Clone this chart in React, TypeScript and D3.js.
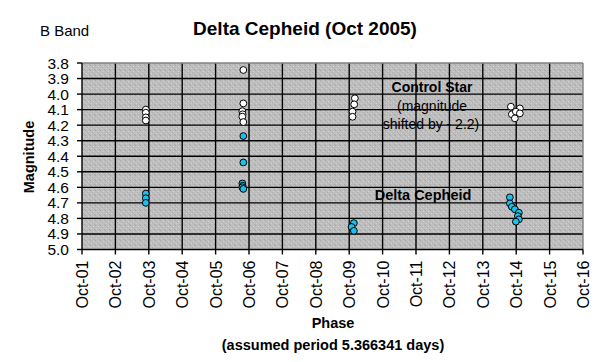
import React from "react";
import * as d3 from "d3";

// Phase expressed as day of October 2005 (fractional)
const controlDays = [2.91, 2.91, 2.91, 2.91, 5.83, 5.83, 5.80, 5.81, 5.80, 5.83, 9.17, 9.15, 9.10, 9.10, 13.84, 14.11, 13.87, 13.99, 14.11, 13.96];
const controlMags = [4.10, 4.12, 4.15, 4.17, 3.845, 4.06, 4.11, 4.13, 4.145, 4.18, 4.027, 4.066, 4.113, 4.146, 4.081, 4.092, 4.130, 4.113, 4.124, 4.156];

const deltaDays = [2.91, 2.91, 2.91, 5.83, 5.83, 5.80, 5.81, 5.80, 5.83, 9.14, 9.07, 9.14, 13.81, 13.81, 13.87, 13.96, 14.08, 14.05, 14.08, 13.99];
const deltaMags = [4.64, 4.67, 4.70, 4.27, 4.44, 4.575, 4.59, 4.60, 4.61, 4.83, 4.855, 4.88, 4.664, 4.703, 4.725, 4.741, 4.763, 4.785, 4.806, 4.821];

const yTicks = [3.8, 3.9, 4.0, 4.1, 4.2, 4.3, 4.4, 4.5, 4.6, 4.7, 4.8, 4.9, 5.0];
const xTickDays = [1, 2, 3, 4, 5, 6, 7, 8, 9, 10, 11, 12, 13, 14, 15, 16];

const FONT = "'Liberation Sans', Arial, sans-serif";
const CYAN = "#1CC0EC";

const dayDate = (day: number) => {
  const base = new Date(2005, 9, 1).getTime();
  return new Date(base + (day - 1) * 86400000);
};

export default function App() {
  const left = 82, right = 583, top = 63, bottom = 249.5;
  const x = d3.scaleTime().domain([dayDate(1), dayDate(16)]).range([left, right]);
  const y = d3.scaleLinear().domain([3.8, 5.0]).range([top, bottom]);
  const fmt = d3.timeFormat("%b-%d");

  const control = controlDays.map((d, i) => ({ d, m: controlMags[i] }));
  const delta = deltaDays.map((d, i) => ({ d, m: deltaMags[i] }));

  return (
    <svg width={608} height={362} style={{ position: "absolute", left: 0, top: 0, background: "#fff" }} fontFamily={FONT}>
      <defs>
        <pattern id="dither" width="5" height="5" patternUnits="userSpaceOnUse">
          <rect width="5" height="5" fill="#bebebe" />
          <rect x="0" y="0" width="1" height="1" fill="#a6a6a6" />
          <rect x="3" y="1" width="1" height="1" fill="#d2d2d2" />
          <rect x="1" y="3" width="1" height="1" fill="#d0d0d0" />
          <rect x="4" y="4" width="1" height="1" fill="#a9a9a9" />
          <rect x="2" y="2" width="1" height="1" fill="#afafaf" />
        </pattern>
      </defs>
      <text x={40} y={36} fontSize={15} fill="#000">B Band</text>
      <text x={305} y={34.5} fontSize={19} fontWeight="bold" textAnchor="middle" fill="#000">Delta Cepheid (Oct 2005)</text>

      <rect x={left} y={top} width={right - left} height={bottom - top} fill="url(#dither)" />
      {yTicks.slice(1, -1).map((t) => (
        <line key={"h" + t} x1={left} x2={right} y1={y(t)} y2={y(t)} stroke="#000" strokeWidth={1.4} />
      ))}
      {xTickDays.slice(1, -1).map((t) => (
        <line key={"v" + t} x1={x(dayDate(t))} x2={x(dayDate(t))} y1={top} y2={bottom} stroke="#000" strokeWidth={1.4} />
      ))}
      <line x1={left} x2={right} y1={top} y2={top} stroke="#808080" strokeWidth={1.4} />
      <line x1={right} x2={right} y1={top} y2={bottom} stroke="#808080" strokeWidth={1.4} />
      <line x1={left} x2={left} y1={top} y2={bottom} stroke="#000" strokeWidth={1.4} />
      <line x1={left} x2={right} y1={bottom} y2={bottom} stroke="#000" strokeWidth={1.4} />

      {yTicks.map((t) => (
        <g key={"yt" + t}>
          <line x1={left - 5} x2={left} y1={y(t)} y2={y(t)} stroke="#000" strokeWidth={1.4} />
          <text x={69} y={y(t) + 5.5} fontSize={15.5} textAnchor="end" fill="#000">{t.toFixed(1)}</text>
        </g>
      ))}
      {xTickDays.map((t) => {
        const xx = x(dayDate(t));
        return (
          <g key={"xt" + t}>
            <line x1={xx} x2={xx} y1={bottom} y2={bottom + 5} stroke="#000" strokeWidth={1.4} />
            <text transform={`translate(${xx + 6},${bottom + 11}) rotate(-90)`} fontSize={16} textAnchor="end" fill="#000">{fmt(dayDate(t))}</text>
          </g>
        );
      })}

      {control.map((p, i) => (
        <circle key={"c" + i} cx={x(dayDate(p.d))} cy={y(p.m)} r={3.4} fill="#fff" stroke="#000" strokeWidth={1} />
      ))}
      {delta.map((p, i) => (
        <circle key={"d" + i} cx={x(dayDate(p.d))} cy={y(p.m)} r={3.4} fill={CYAN} stroke="#000" strokeWidth={1} />
      ))}

      <text x={432} y={92} fontSize={14} fontWeight="bold" textAnchor="middle" fill="#000">Control Star</text>
      <text x={432} y={111} fontSize={14} textAnchor="middle" fill="#000">(magnitude</text>
      <text x={431} y={129} fontSize={14} textAnchor="middle" fill="#000">shifted by - 2.2)</text>
      <text x={423} y={200} fontSize={14.5} fontWeight="bold" textAnchor="middle" fill="#000">Delta Cepheid</text>

      <text transform="translate(34,157) rotate(-90)" fontSize={14.5} fontWeight="bold" textAnchor="middle" fill="#000">Magnitude</text>
      <text x={333} y={328} fontSize={14.5} fontWeight="bold" textAnchor="middle" fill="#000">Phase</text>
      <text x={333} y={350} fontSize={14.5} fontWeight="bold" textAnchor="middle" fill="#000">(assumed period 5.366341 days)</text>
    </svg>
  );
}
